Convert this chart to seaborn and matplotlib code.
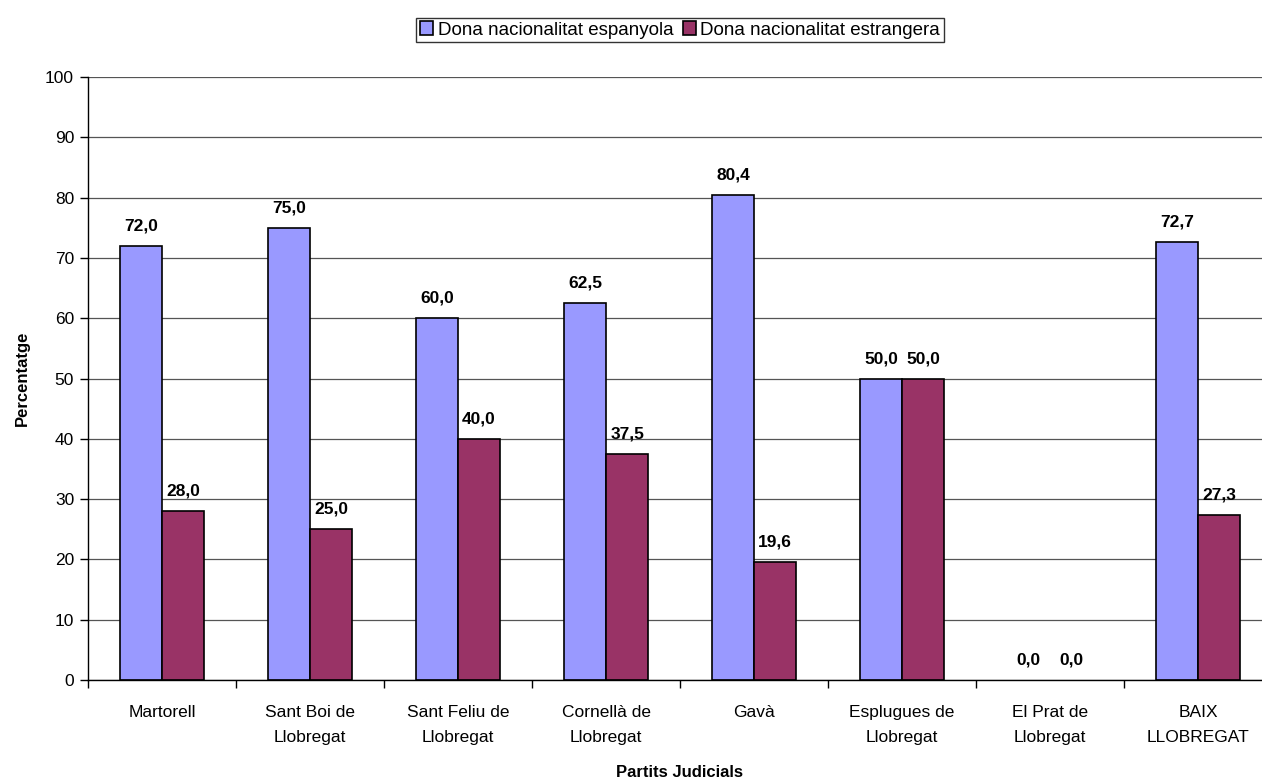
import matplotlib
matplotlib.use("Agg")
import matplotlib.pyplot as plt
import seaborn as sns
import pandas as pd
import numpy as np
from matplotlib.ticker import FixedLocator

categories = ["Martorell", "Sant Boi de\nLlobregat", "Sant Feliu de\nLlobregat", "Cornellà de\nLlobregat",
              "Gavà", "Esplugues de\nLlobregat", "El Prat de\nLlobregat", "BAIX\nLLOBREGAT"]
espanyola = [72.0, 75.0, 60.0, 62.5, 80.4, 50.0, 0.0, 72.7]
estrangera = [28.0, 25.0, 40.0, 37.5, 19.6, 50.0, 0.0, 27.3]
series_names = ["Dona nacionalitat espanyola", "Dona nacionalitat estrangera"]
colors = ["#9999FF", "#993366"]

sns.set_theme(style="white")
plt.rcParams['font.family'] = ['Liberation Sans', 'DejaVu Sans']
plt.rcParams['text.color'] = 'black'
plt.rcParams['axes.labelcolor'] = 'black'
plt.rcParams['xtick.color'] = 'black'
plt.rcParams['ytick.color'] = 'black'

df = pd.DataFrame({
    "cat": categories * 2,
    "val": espanyola + estrangera,
    "serie": [series_names[0]] * len(categories) + [series_names[1]] * len(categories),
})

fig = plt.figure(figsize=(12.62, 7.82), dpi=100)
left = 88 / 1262
width = (1272 - 88) / 1262
ax = fig.add_axes([left, 0.1304, width, 0.7711])
sns.barplot(data=df, x="cat", y="val", hue="serie", palette=colors, width=0.57, saturation=1,
            edgecolor="black", linewidth=1.2, ax=ax, legend=True, errorbar=None)

ax.set_ylim(0, 100)
ax.set_xlim(-0.5, len(categories) - 0.5)
ax.set_yticks(range(0, 101, 10))
ax.yaxis.grid(True, color="#555555", linewidth=0.9)
ax.set_axisbelow(True)
for s in ["top", "right"]:
    ax.spines[s].set_visible(False)
for s in ["left", "bottom"]:
    ax.spines[s].set_color("black")
    ax.spines[s].set_linewidth(1.0)

ax.tick_params(axis="y", which="major", length=6, width=1, labelsize=12.5, direction="out", left=True, pad=4)
ax.tick_params(axis="x", which="major", length=0, labelsize=12.5, pad=18)
for lbl in ax.get_xticklabels():
    lbl.set_linespacing(1.8)
ax.xaxis.set_minor_locator(FixedLocator(np.arange(-0.5, len(categories), 1.0)))
ax.tick_params(axis="x", which="minor", length=6, width=1, direction="out", bottom=True)

for cont in ax.containers:
    for bar in cont:
        h = bar.get_height()
        if h == 0:
            bar.set_linewidth(0)
        ax.annotate(f"{h:.1f}".replace(".", ","), (bar.get_x() + bar.get_width() / 2, h),
                    xytext=(0, 9), textcoords="offset points", ha="center", va="bottom",
                    fontsize=12.5, fontweight="bold")

ax.set_xlabel("Partits Judicials", fontsize=12, fontweight="bold", labelpad=15)
ax.set_ylabel("Percentatge", fontsize=12, fontweight="bold", labelpad=11)

leg = ax.legend(loc="center", bbox_to_anchor=(0.5, 1.078), ncol=2, fontsize=13.5, frameon=True,
                fancybox=False, edgecolor="black", borderpad=0.2, handlelength=0.7, handleheight=0.7,
                handletextpad=0.25, columnspacing=0.5, borderaxespad=0)
leg.get_frame().set_linewidth(1.0)
for p in leg.get_patches():
    p.set_linewidth(1.2)

fig.savefig("out.png", dpi=100)
